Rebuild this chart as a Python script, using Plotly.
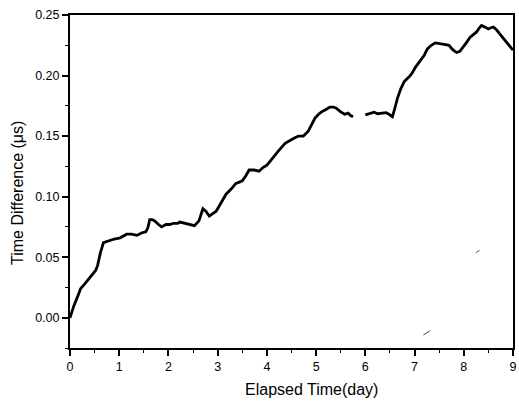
import plotly.graph_objects as go

# Segment 1 (before gap)
days_a = [0.00, 0.04, 0.08, 0.15, 0.215, 0.30, 0.38, 0.45, 0.52, 0.56, 0.62, 0.68, 0.75, 0.82, 0.90,
          1.02, 1.10, 1.15, 1.25, 1.36, 1.45, 1.54, 1.58, 1.62, 1.67, 1.72, 1.80, 1.86, 1.95, 2.03,
          2.10, 2.19, 2.23, 2.35, 2.45, 2.53, 2.62, 2.70, 2.76, 2.83, 2.90, 2.97, 3.07, 3.17, 3.27,
          3.37, 3.44, 3.50, 3.57, 3.64, 3.74, 3.84, 3.92, 4.00, 4.08, 4.17, 4.24, 4.37, 4.45, 4.54,
          4.64, 4.74, 4.84, 4.91, 4.98, 5.05, 5.11, 5.20, 5.28, 5.35, 5.41, 5.50, 5.58, 5.65, 5.70, 5.75]
diff_a = [0.000, 0.006, 0.010, 0.017, 0.024, 0.028, 0.032, 0.036, 0.039, 0.043, 0.054, 0.062, 0.063, 0.064, 0.065,
          0.066, 0.068, 0.069, 0.069, 0.068, 0.070, 0.071, 0.074, 0.081, 0.081, 0.080, 0.077, 0.075, 0.077, 0.077,
          0.078, 0.078, 0.079, 0.078, 0.077, 0.076, 0.080, 0.090, 0.088, 0.084, 0.086, 0.088, 0.095, 0.102, 0.106,
          0.111, 0.112, 0.113, 0.117, 0.122, 0.122, 0.121, 0.124, 0.126, 0.130, 0.135, 0.138, 0.144, 0.146, 0.148,
          0.150, 0.150, 0.154, 0.159, 0.165, 0.168, 0.170, 0.172, 0.174, 0.174, 0.173, 0.170, 0.168, 0.169, 0.167, 0.166]

# Segment 2 (after gap)
days_b = [6.00, 6.10, 6.18, 6.25, 6.32, 6.42, 6.48, 6.55, 6.60, 6.65, 6.72, 6.79, 6.89, 6.95, 7.02,
          7.12, 7.20, 7.26, 7.34, 7.42, 7.52, 7.63, 7.70, 7.76, 7.82, 7.86, 7.92, 7.96, 8.05, 8.13,
          8.20, 8.26, 8.31, 8.36, 8.43, 8.50, 8.55, 8.60, 8.66, 8.73, 8.80, 8.87, 8.94, 9.00]
diff_b = [0.1675, 0.1690, 0.1697, 0.1685, 0.1690, 0.1694, 0.1680, 0.1660, 0.1730, 0.1810, 0.1890, 0.1950, 0.1990, 0.2020, 0.2070,
          0.2126, 0.2170, 0.2220, 0.2250, 0.2270, 0.2260, 0.2255, 0.2250, 0.2220, 0.2200, 0.2190, 0.2200, 0.2220, 0.2270, 0.2317,
          0.2340, 0.2360, 0.2390, 0.2413, 0.2400, 0.2385, 0.2395, 0.2400, 0.2380, 0.2344, 0.2310, 0.2276, 0.2240, 0.2210]

# Stray scan marks
stray1_x = [8.25, 8.32]
stray1_y = [0.0537, 0.0556]
stray2_x = [7.18, 7.31]
stray2_y = [-0.0142, -0.0109]

x_ticks = [0, 1, 2, 3, 4, 5, 6, 7, 8, 9]
y_ticks = [0.00, 0.05, 0.10, 0.15, 0.20, 0.25]
y_labels = ["0.00", "0.05", "0.10", "0.15", "0.20", "0.25"]

x_title = "Elapsed Time(day)"
y_title = "Time Difference (μs)"

fig = go.Figure()
for xs, ys in [(days_a, diff_a), (days_b, diff_b)]:
    fig.add_trace(go.Scatter(x=xs, y=ys, mode="lines",
                             line=dict(color="black", width=2.8), showlegend=False, hoverinfo="skip"))
for xs, ys in [(stray1_x, stray1_y), (stray2_x, stray2_y)]:
    fig.add_trace(go.Scatter(x=xs, y=ys, mode="lines",
                             line=dict(color="#444", width=1), showlegend=False, hoverinfo="skip"))

font_family = "Liberation Sans, Arial, sans-serif"
fig.update_layout(
    width=519, height=404,
    margin=dict(l=70, r=2, t=15, b=56),
    paper_bgcolor="white", plot_bgcolor="white",
    font=dict(family=font_family, color="black", size=12),
    annotations=[
        dict(text=x_title, xref="paper", yref="paper", x=0.546, y=-0.126,
             xanchor="center", yanchor="middle", showarrow=False, font=dict(size=16)),
        dict(text=y_title, xref="paper", yref="paper", x=-0.1186, y=0.467, textangle=-90,
             xanchor="center", yanchor="middle", showarrow=False, font=dict(size=16)),
    ],
)
fig.update_xaxes(
    range=[0, 9], tickvals=x_ticks, ticks="outside", ticklen=6, tickwidth=1.5, tickcolor="black",
    minor=dict(dtick=0.5, ticks="outside", ticklen=3, tickcolor="black", tickwidth=1),
    showline=True, linecolor="black", linewidth=2, mirror=True, showgrid=False, zeroline=False,
    tickfont=dict(size=12.5),
)
fig.update_yaxes(
    range=[-0.025, 0.25], tickvals=y_ticks, ticktext=y_labels, ticks="outside", ticklen=6, tickwidth=1.5,
    tickcolor="black",
    minor=dict(dtick=0.025, ticks="outside", ticklen=3, tickcolor="black", tickwidth=1),
    showline=True, linecolor="black", linewidth=2, mirror=True, showgrid=False, zeroline=False,
    tickfont=dict(size=12.5),
)

fig.write_html("out.html")
